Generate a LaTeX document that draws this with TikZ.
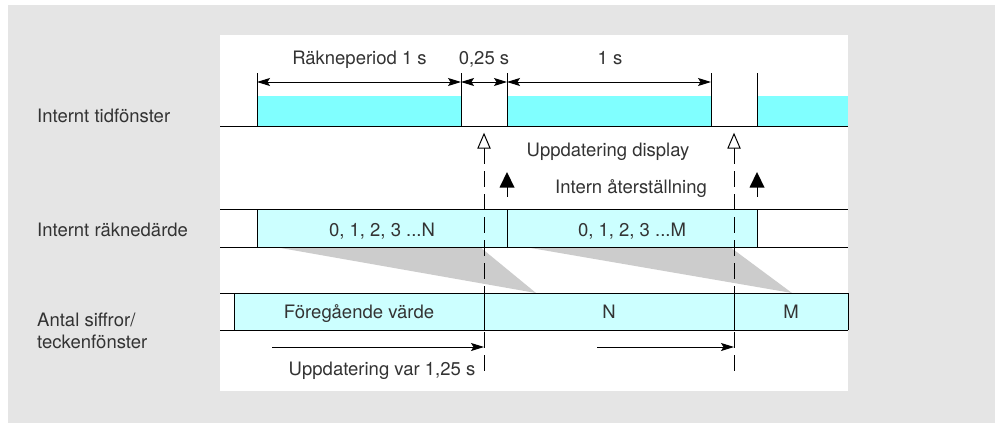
\documentclass[tikz,border=0pt]{standalone}
\usepackage{fontspec}
\setmainfont{TeX Gyre Heros}
\usetikzlibrary{arrows.meta}
\definecolor{bggrey}{HTML}{E5E5E5}
\definecolor{brightcyan}{HTML}{80FFFF}
\definecolor{palecyan}{HTML}{CCFFFF}
\definecolor{wedgegrey}{HTML}{CCCCCC}
\definecolor{txt}{HTML}{333333}
\begin{document}
\begin{tikzpicture}[x=1pt,y=-1pt,
  lbl/.style={anchor=base, text=txt, inner sep=0pt, font=\fontsize{18.5}{23}\selectfont},
  lbll/.style={lbl, anchor=base west},
  ln/.style={line width=1pt, draw=black},
  dimline/.style={ln, {Stealth[length=13pt,width=8pt,inset=2.5pt]}-{Stealth[length=13pt,width=8pt,inset=2.5pt]}},
  oneway/.style={ln, -{Stealth[length=13pt,width=8pt,inset=2.5pt]}},
  dashline/.style={ln, dash pattern=on 16pt off 7pt},
  openhead/.style={ln, fill=white, line join=miter},
  fullhead/.style={fill=black}
]
\useasboundingbox (0,0) rectangle (995,423);
% backgrounds
\fill[bggrey] (8,5) rectangle (995,423);
\fill[white] (220,35) rectangle (848,391);

% ---------- row 1: internal time window ----------
\fill[brightcyan] (257,96) rectangle (461,126);
\fill[brightcyan] (507,96) rectangle (711,126);
\fill[brightcyan] (757,96) rectangle (848,126);
\coordinate (r1l) at (220,126);
\coordinate (r1r) at (848,126);
\draw[ln] (r1l) -- (r1r);
\coordinate (tadim) at (257,82);
\coordinate (tbdim) at (461,82);
\coordinate (tcdim) at (507,82);
\coordinate (tddim) at (711,82);
\foreach \x in {257,461,507,711,757}{
  \draw[ln] (\x,73) -- (\x,126);
}
\draw[dimline] (tadim) -- (tbdim);
\draw[dimline] (tbdim) -- (tcdim);
\draw[dimline] (tcdim) -- (tddim);
\node[lbl] (p1) at (359.5,64.5) {Räkneperiod 1 s};
\node[lbl] (p2) at (484,64.5) {0,25 s};
\node[lbl] (p3) at (610,64.5) {1 s};

% ---------- wedges ----------
\fill[wedgegrey] (275,247) -- (480,247) -- (536,293) -- cycle;
\fill[wedgegrey] (525,247) -- (730,247) -- (792,293) -- cycle;

% ---------- row 2: internal counter ----------
\fill[palecyan] (257,209) rectangle (757,247);
\draw[ln] (220,209) -- (848,209);
\draw[ln] (220,247) -- (848,247);
\foreach \x in {257,507,757}{ \draw[ln] (\x,209) -- (\x,247); }
\node[lbl] (c1) at (382,236) {0, 1, 2, 3 ...N};
\node[lbl] (c2) at (632,236) {0, 1, 2, 3 ...M};

% ---------- row 3: display ----------
\fill[palecyan] (234,293) rectangle (848,330);
\draw[ln] (220,293) -- (848,293);
\draw[ln] (220,330) -- (848,330);
\foreach \x in {234,484,734,848}{ \draw[ln] (\x,293) -- (\x,330); }
\node[lbl] (d1) at (359,318) {Föregående värde};
\node[lbl] (d2) at (609,318) {N};
\node[lbl] (d3) at (791,318) {M};

% ---------- update display markers (dashed) ----------
\foreach \x in {484,734}{
  \draw[dashline] (\x,148) -- (\x,377);
  \draw[openhead] (\x,134) -- (\x+6,148) -- (\x-6,148) -- cycle;
}
% ---------- internal reset markers ----------
\foreach \x in {507,757}{
  \draw[ln] (\x,187) -- (\x,197);
  \fill[fullhead] (\x,172) -- (\x+7.5,187.5) -- (\x-7.5,187.5) -- cycle;
}
\node[lbl] (ud) at (608,156.5) {Uppdatering display};
\node[lbl] (ir) at (631,193) {Intern återställning};

% ---------- bottom arrows ----------
\coordinate (b1s) at (272,347);
\coordinate (b1e) at (484,347);
\coordinate (b2s) at (597,347);
\coordinate (b2e) at (734,347);
\draw[oneway] (b1s) -- (b1e);
\draw[oneway] (b2s) -- (b2e);
\node[lbl] (uv) at (382,375) {Uppdatering var 1,25 s};

% ---------- left labels ----------
\node[lbll] (L1) at (37,122.5) {Internt tidfönster};
\node[lbll] (L2) at (37,236) {Internt räknedärde};
\node[lbll] (L3a) at (37,326) {Antal siffror/};
\node[lbll] (L3b) at (37,348.5) {teckenfönster};
\end{tikzpicture}
\end{document}
